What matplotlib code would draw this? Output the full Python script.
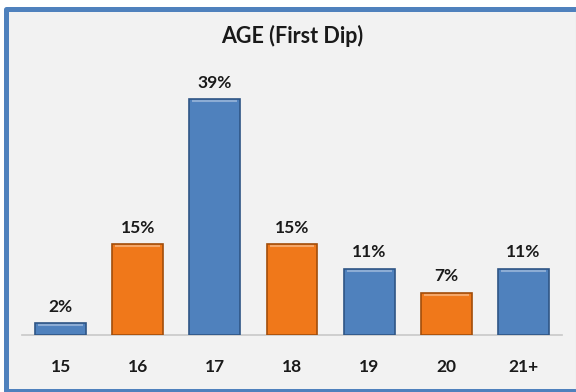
import matplotlib
matplotlib.use("Agg")
import matplotlib.pyplot as plt
from matplotlib.patches import Rectangle
from matplotlib.lines import Line2D

# data
ages = ["15", "16", "17", "18", "19", "20", "21+"]
share = [2, 15, 39, 15, 11, 7, 11]
bar_colors = ["#4F81BD", "#F0781A", "#4F81BD", "#F0781A", "#4F81BD", "#F0781A", "#4F81BD"]
edge_colors = ["#2F5585", "#A24D0A", "#2F5585", "#A24D0A", "#2F5585", "#A24D0A", "#2F5585"]

plt.rcParams['font.family'] = ['Lato', 'DejaVu Sans']

W, H = 576, 392
fig = plt.figure(figsize=(W / 100, H / 100), dpi=100)
fig.patch.set_facecolor("white")

# chart frame (right/bottom edges are cut off in the original)
fig.patches.append(Rectangle((5.5 / W, 1.5 / H), 1, 381.5 / H, transform=fig.transFigure,
                             facecolor="#F2F2F2", edgecolor="none", zorder=-5))
fig.lines.append(Line2D([1.0, 5.5 / W, 5.5 / W, 1.0], [1.5 / H, 1.5 / H, 383 / H, 383 / H],
                        transform=fig.transFigure, color="#4F81BD", linewidth=3.6, zorder=-4))
fig.lines.append(Line2D([575.5 / W, 575.5 / W], [3.5 / H, 381 / H], transform=fig.transFigure,
                        color="#C9D3DF", linewidth=0.8, zorder=-4))

ax = fig.add_axes([22 / W, 57 / H, 540 / W, 272 / H])
ax.set_zorder(2)
ax.set_facecolor("none")
ax.set_xlim(-0.5, 6.5)
ax.set_ylim(0, 45)

x = range(len(ages))
bars = ax.bar(x, share, width=0.66, color=bar_colors, edgecolor=edge_colors, linewidth=1.2, zorder=3)

# a light strip along the top of each bar for the bevel look
for b in bars:
    ax.plot([b.get_x() + 0.04, b.get_x() + b.get_width() - 0.04],
            [b.get_height() - 0.35, b.get_height() - 0.35],
            color="white", alpha=0.35, linewidth=1.5, zorder=4, solid_capstyle="butt")

for xi, v in zip(x, share):
    ax.annotate(f"{v}%", (xi, v), xytext=(0, 6), textcoords="offset points",
                ha="center", va="bottom", fontsize=12.5, fontweight="bold", color="#1A1A1A")

ax.set_xticks(list(x))
ax.set_xticklabels(ages, fontsize=12.5, fontweight="bold", color="#1A1A1A")
ax.tick_params(axis="x", length=0, pad=17)
ax.set_yticks([])
for s in ["top", "left", "right"]:
    ax.spines[s].set_visible(False)
ax.spines["bottom"].set_color("#C8C8C8")
ax.spines["bottom"].set_linewidth(1.2)

fig.text(292 / W, 1 - 36 / H, "AGE (First Dip)", ha="center", va="center",
         fontsize=15.5, fontweight="bold", color="#1A1A1A")

fig.savefig("out.png", dpi=100, facecolor=fig.get_facecolor())
